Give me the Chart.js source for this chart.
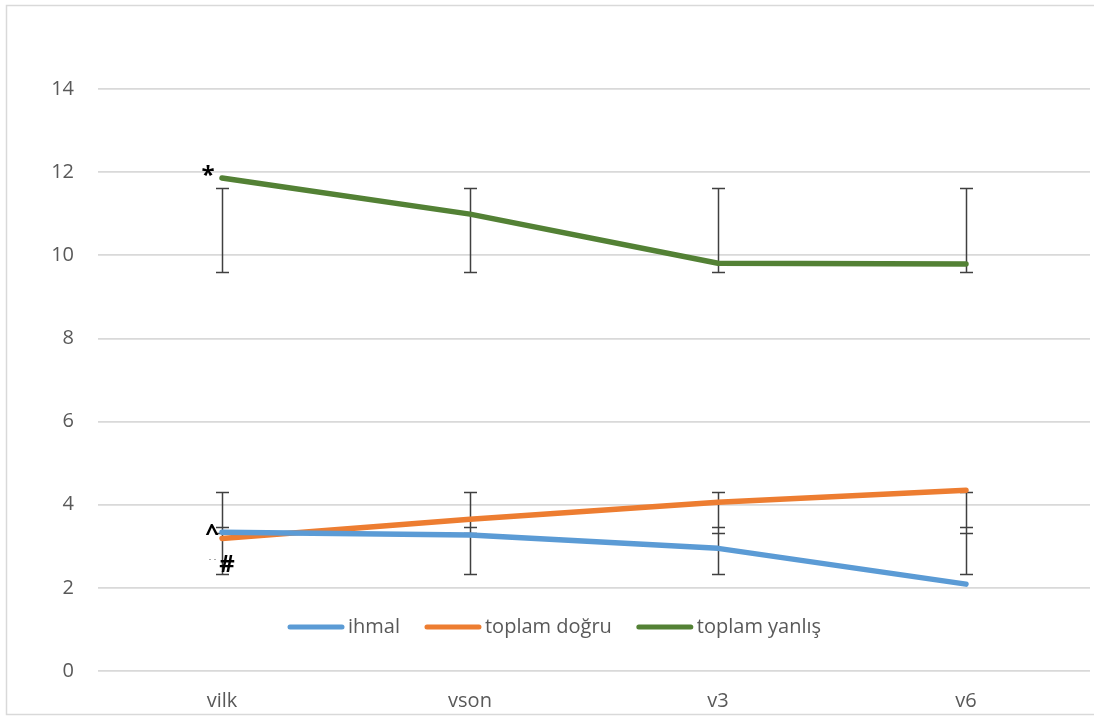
<!DOCTYPE html>
<html>
<head>
<meta charset="utf-8">
<script src="https://cdn.jsdelivr.net/npm/chart.js@4.4.0/dist/chart.umd.min.js"></script>
<style>
  html, body { margin: 0; padding: 0; background: #fff; }
  #wrap { width: 1094px; height: 716px; position: relative; }
</style>
</head>
<body>
<div id="wrap"><canvas id="c" width="1094" height="716"></canvas></div>
<script>
// ---- data ----
const categories = ['vilk', 'vson', 'v3', 'v6'];
const ihmal = [3.34, 3.27, 2.95, 2.09];
const toplamDogru = [3.19, 3.65, 4.06, 4.35];
const toplamYanlis = [11.86, 10.99, 9.81, 9.79];
const yTicks = [0, 2, 4, 6, 8, 10, 12, 14];

// error bars (same range at each category)
const errUpperLow = [9.6, 9.6, 9.6, 9.6];
const errUpperHigh = [11.62, 11.62, 11.62, 11.62];
const errLowerLow = [2.33, 2.33, 2.33, 2.33];
const errLowerHigh = [4.31, 4.31, 4.31, 4.31];
const errLowerMidA = [3.31, 3.31, 3.31, 3.31];
const errLowerMidB = [3.46, 3.46, 3.46, 3.46];

// significance marks at vilk
const markLabels = ['*', '^', '#'];
const markValues = [12.05, 3.41, 2.59];
const markCategory = [0, 0, 0];

const FONT = "'Open Sans', 'Noto Sans', sans-serif";
const TEXT = '#595959';

const errorBarPlugin = {
  id: 'errorBars',
  beforeDatasetsDraw(chart) {
    const ctx = chart.ctx, x = chart.scales.x, y = chart.scales.y;
    ctx.save();
    ctx.strokeStyle = '#404040';
    ctx.lineWidth = 1.5;
    const cap = 6.5;
    const drawBar = (i, lo, hi, caps) => {
      const px = Math.round(x.getPixelForValue(i)) + 0.5;
      ctx.beginPath();
      ctx.moveTo(px, y.getPixelForValue(lo));
      ctx.lineTo(px, y.getPixelForValue(hi));
      caps.forEach(v => {
        const py = Math.round(y.getPixelForValue(v)) + 0.5;
        ctx.moveTo(px - cap, py);
        ctx.lineTo(px + cap, py);
      });
      ctx.stroke();
    };
    categories.forEach((c, i) => {
      drawBar(i, errUpperLow[i], errUpperHigh[i], [errUpperLow[i], errUpperHigh[i]]);
      drawBar(i, errLowerLow[i], errLowerHigh[i], [errLowerLow[i], errLowerMidA[i], errLowerMidB[i], errLowerHigh[i]]);
    });
    ctx.restore();
  },
  afterDraw(chart) {
    const ctx = chart.ctx, x = chart.scales.x, y = chart.scales.y, area = chart.chartArea;
    ctx.save();
    // chart border
    ctx.strokeStyle = '#d9d9d9';
    ctx.lineWidth = 1.5;
    ctx.strokeRect(6.5, 5.5, 1200, 709);

    // marks
    ctx.fillStyle = '#000';
    ctx.font = 'bold 24px ' + FONT;
    ctx.textAlign = 'center';
    ctx.textBaseline = 'alphabetic';
    const offs = [-14, -10, 5];
    markLabels.forEach((t, k) => {
      const m = ctx.measureText(t);
      const cx = x.getPixelForValue(markCategory[k]) + offs[k];
      const cy = y.getPixelForValue(markValues[k]);
      const base = cy + (m.actualBoundingBoxAscent - m.actualBoundingBoxDescent) / 2;
      ctx.fillText(t, cx, base);
    });
    // tiny dashes
    ctx.strokeStyle = '#aaaaaa';
    ctx.lineWidth = 1;
    const dy = Math.round(y.getPixelForValue(2.69)) + 0.5;
    const dx = x.getPixelForValue(0);
    ctx.beginPath();
    ctx.moveTo(dx - 13, dy); ctx.lineTo(dx - 11, dy);
    ctx.moveTo(dx - 8, dy); ctx.lineTo(dx - 6, dy);
    ctx.stroke();

    // legend inside plot
    const ly = area.bottom - 44;
    let lx = 288;
    ctx.font = '20px ' + FONT;
    ctx.textBaseline = 'middle';
    ctx.textAlign = 'left';
    chart.data.datasets.forEach(ds => {
      ctx.strokeStyle = ds.borderColor;
      ctx.lineWidth = 5;
      ctx.lineCap = 'round';
      ctx.beginPath();
      ctx.moveTo(lx + 2, ly);
      ctx.lineTo(lx + 54, ly);
      ctx.stroke();
      ctx.fillStyle = TEXT;
      ctx.fillText(ds.label, lx + 60, ly);
      lx += 60 + ctx.measureText(ds.label).width + 25;
    });
    ctx.restore();
  }
};

const lineDs = (label, data, color) => ({
  label, data,
  borderColor: color, backgroundColor: color,
  borderWidth: 5.5, pointRadius: 0, pointHoverRadius: 0,
  tension: 0, fill: false,
  borderCapStyle: 'round', borderJoinStyle: 'round'
});

new Chart(document.getElementById('c'), {
  type: 'line',
  data: {
    labels: categories,
    datasets: [
      lineDs('ihmal', ihmal, '#5B9BD5'),
      lineDs('toplam doğru', toplamDogru, '#ED7D31'),
      lineDs('toplam yanlış', toplamYanlis, '#538135')
    ]
  },
  options: {
    responsive: false,
    animation: false,
    devicePixelRatio: 1,
    layout: { padding: { top: 89, right: 4, bottom: 0, left: 0 } },
    plugins: { legend: { display: false }, tooltip: { enabled: false } },
    scales: {
      x: {
        offset: true,
        grid: { display: false, drawTicks: false },
        border: { display: false },
        ticks: { color: TEXT, font: { family: FONT, size: 20 }, padding: 18 },
        afterFit(s) { s.height = 45; }
      },
      y: {
        min: 0, max: 14,
        afterBuildTicks(s) { s.ticks = yTicks.map(v => ({ value: v })); },
        grid: { color: '#d9d9d9', lineWidth: 1.7, drawTicks: false },
        border: { display: false },
        ticks: { color: TEXT, font: { family: FONT, size: 20 }, padding: 24 },
        afterFit(s) { s.width = 98; }
      }
    }
  },
  plugins: [errorBarPlugin]
});
</script>
</body>
</html>
